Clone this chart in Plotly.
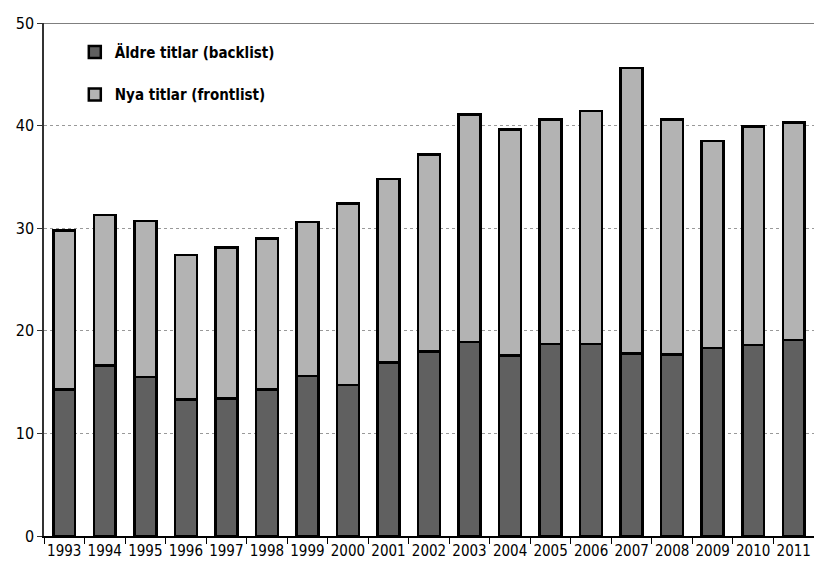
import plotly.graph_objects as go

years = [str(y) for y in range(1993, 2012)]
backlist = [14.3, 16.6, 15.5, 13.3, 13.4, 14.3, 15.6, 14.7, 16.9, 18.0,
            18.9, 17.6, 18.7, 18.7, 17.8, 17.7, 18.3, 18.6, 19.1]
frontlist = [15.5, 14.7, 15.2, 14.1, 14.7, 14.7, 15.0, 17.7, 17.9, 19.2,
             22.2, 22.0, 21.9, 22.7, 27.8, 22.9, 20.2, 21.3, 21.2]
y_ticks = [0, 10, 20, 30, 40, 50]

FONT = "DejaVu Sans Condensed, Liberation Sans Narrow, Roboto, sans-serif"

fig = go.Figure()
fig.add_trace(go.Bar(x=years, y=backlist, name="<b>Äldre titlar (backlist)</b>",
                     marker=dict(color="#606060", line=dict(color="black", width=2.5)),
                     legendgroup="a"))
fig.add_trace(go.Bar(x=years, y=frontlist, name="<b>Nya titlar (frontlist)</b>",
                     marker=dict(color="#b3b3b3", line=dict(color="black", width=2.5)),
                     legendgroup="b"))

fig.update_layout(
    width=814, height=567,
    margin=dict(l=44, r=0, t=23, b=31, autoexpand=False),
    barmode="stack", bargap=0.46,
    plot_bgcolor="white", paper_bgcolor="white",
    font=dict(family=FONT, size=15, color="black"),
    showlegend=True,
    legend=dict(x=0.04, y=0.975, xanchor="left", yanchor="top",
                traceorder="grouped", tracegroupgap=20,
                font=dict(family=FONT, size=15, color="black"),
                bgcolor="rgba(0,0,0,0)", itemwidth=30),
    xaxis=dict(type="category", showline=True, linecolor="black", linewidth=1.5,
               ticks="outside", tickson="boundaries", ticklen=6, tickcolor="black",
               tickangle=0, automargin=False,
               tickfont=dict(family=FONT, size=15), showgrid=False),
    yaxis=dict(range=[0, 50], tickvals=y_ticks, showline=True, linecolor="#333333",
               linewidth=1.5, ticks="outside", ticklen=5, tickcolor="#333333",
               showgrid=True, gridcolor="#999999", griddash="dot", gridwidth=0.8,
               automargin=False,
               tickfont=dict(family=FONT, size=16), zeroline=False),
)
fig.add_shape(type="line", xref="paper", yref="y", x0=0, x1=1, y0=50, y1=50,
              line=dict(color="#555555", width=1.5))

fig.write_html("out.html")
